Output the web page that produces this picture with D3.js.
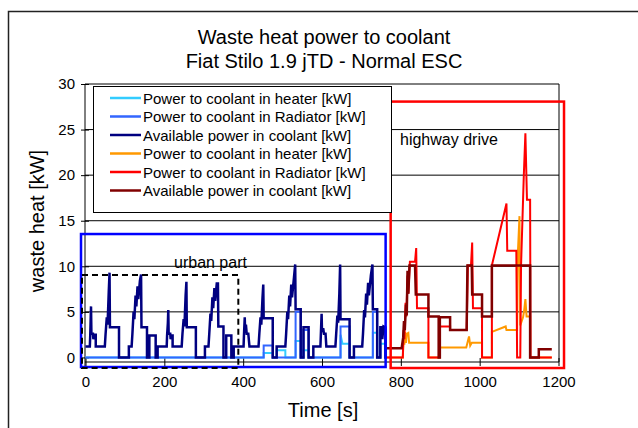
<!DOCTYPE html>
<html><head><meta charset="utf-8">
<script src="https://cdn.jsdelivr.net/npm/d3@7"></script>
<style>
body{margin:0;background:#fff}
svg{display:block;font-family:"Liberation Sans",Arial,sans-serif}
</style></head><body>
<svg id="chart" width="638" height="428"></svg>
<script>
// urban part (NEDC ECE cycles), [time s, kW]
const heaterUrban = [[0,0],[452,0],[452,0.5],[475,0.5],[475,0],[485,0],[485,0.8],[507,0.8],[507,0],[533,0],[533,1.8],[546,1.8],[546,0],[553,0],[553,0.8],[566,0.8],[566,0],[647,0],[647,2.5],[652,1.5],[670,1.5],[670,0],[729,0],[729,2.7],[740,2.7],[740,0],[748,0],[748,1.5],[761,1.5],[761,0],[765,0]];
const radiatorUrban = [[0,0],[452,0],[452,1.3],[475,1.3],[475,0],[533,0],[533,5.0],[546,5.0],[546,0],[553,0],[553,3.0],[566,3.0],[566,0],[647,0],[647,3.4],[670,3.4],[670,0],[729,0],[729,5.0],[740,5.0],[740,0],[748,0],[748,3.0],[761,3.0],[761,0],[765,0]];
const availableUrban = [
  [0,1.2],[11,1.2],[12,2.4],[13,4.0],[14,5.6],[15,2.6],[19,2.6],[20,2.0],[22,2.5],[26,2.5],[26,1.2],[49,1.2],[51,2.6],[54,4.4],[56,3.6],[59,7.2],[61,9.3],[62,3.3],[85,3.3],[85,0],[110,0],[110,1.2],[117,1.2],[119,2.6],[122,5.0],[124,4.2],[127,6.8],[129,5.6],[132,7.8],[134,6.4],[138,8.4],[141,9.1],[142,3.3],[156,3.3],[156,0],[162,0],[162,2.4],[178,2.4],[178,0],[183,0],[183,1.2],
  [206,1.2],[207,2.4],[209,3.8],[210,5.2],[211,2.6],[215,2.6],[216,2.0],[218,2.4],[221,2.4],[221,1.2],[244,1.2],[246,2.6],[249,4.2],[251,3.4],[254,6.8],[256,8.3],[257,3.3],[280,3.3],[280,0],[303,0],[303,1.2],[312,1.2],[314,2.6],[317,4.8],[319,4.0],[322,6.6],[324,5.4],[327,7.6],[329,6.2],[333,8.1],[336,8.1],[337,3.4],[350,3.4],[350,0],[357,0],[357,2.4],[370,2.4],[370,0],[376,0],[376,1.2],
  [401,1.2],[402,2.4],[404,4.4],[405,2.8],[407,3.6],[409,2.6],[413,2.6],[416,1.2],[439,1.2],[441,2.6],[444,4.4],[446,3.6],[449,6.5],[451,8.0],[452,4.3],[475,4.3],[475,0],[485,0],[485,1.2],[507,1.2],[509,2.6],[512,5.0],[514,4.2],[517,6.8],[519,5.6],[522,8.0],[524,6.6],[529,8.8],[532,10.2],[533,5.3],[546,5.3],[546,0],[553,0],[553,3.3],[566,3.3],[566,0],[578,0],[578,1.2],
  [596,1.2],[597,2.4],[599,4.8],[600,2.8],[603,3.2],[605,2.6],[609,2.6],[611,1.2],[634,1.2],[636,2.6],[639,4.6],[641,3.8],[644,7.0],[646,10.2],[647,4.2],[670,4.2],[670,0],[681,0],[681,1.2],[702,1.2],[704,2.6],[707,5.2],[709,4.4],[712,7.0],[714,5.8],[717,8.2],[719,6.8],[724,9.0],[728,10.2],[729,5.3],[740,5.3],[740,0],[748,0],[748,3.3],[752,3.3],[753,2.0],[756,3.4],[761,3.3],[761,0],[765,0]
];
// highway part (EUDC)
const heaterHighway = [[765,0],[805,0],[807,2.0],[809,1.4],[811,2.8],[813,1.6],[815,2.6],[819,2.7],[821,1.6],[870,1.6],[870,0],[898,0],[898,1.1],[966,1.1],[969,1.6],[973,2.3],[976,1.3],[980,1.6],[1006,1.6],[1006,0],[1031,0],[1031,2.8],[1066,3.4],[1068,3.0],[1095,3.0],[1097,11.5],[1101,15.5],[1103,3.5],[1110,4.4],[1113,5.2],[1116,6.4],[1119,4.5],[1128,4.5],[1128,0],[1183,0]];
const radiatorHighway = [[765,0],[805,0],[807,3.0],[809,2.0],[812,6.0],[814,4.5],[817,9.0],[819,7.0],[823,10.5],[836,10.5],[839,12.0],[841,5.4],[870,5.4],[870,0],[898,0],[898,3.4],[925,3.4],[925,3.0],[967,3.0],[970,10.1],[978,10.1],[981,12.6],[983,5.4],[1006,5.4],[1006,0],[1031,0],[1031,10.1],[1068,16.9],[1070,11.7],[1093,11.7],[1095,0],[1103,0],[1105,10.1],[1112,20],[1116,24.6],[1120,17.3],[1128,17.3],[1129,0],[1183,0]];
const availableHighway = [[765,1.0],[802,1.0],[806,2.2],[808,4.0],[810,3.0],[813,5.8],[815,4.6],[817,9.5],[819,7.0],[822,10.1],[836,10.1],[838,6.9],[870,6.9],[870,4.5],[896,4.5],[896,0],[899,0],[899,4.4],[925,4.4],[925,3.0],[967,3.0],[969,10.1],[980,10.1],[981,6.9],[1006,6.9],[1006,4.5],[1031,4.5],[1031,10.1],[1128,10.1],[1128,0],[1150,0],[1150,0.9],[1183,0.9]];

const xTicks = [0, 200, 400, 600, 800, 1000, 1200];
const yTicks = [0, 5, 10, 15, 20, 25, 30];
const legendLabels = [
  "Power to coolant in heater [kW]", "Power to coolant in Radiator [kW]", "Available power in coolant [kW]",
  "Power to coolant in heater [kW]", "Power to coolant in Radiator [kW]", "Available power in coolant [kW]"
];

const series = [
  { data: heaterUrban,      color: "#33CCFF", w: 2 },
  { data: radiatorUrban,    color: "#3366FF", w: 2 },
  { data: availableUrban,   color: "#000080", w: 2.5 },
  { data: heaterHighway,    color: "#FF9900", w: 2 },
  { data: radiatorHighway,  color: "#FF0000", w: 2 },
  { data: availableHighway, color: "#800000", w: 2.5 }
];

const svg = d3.select("#chart");
const L = 85, R = 559, T = 84, B = 362;
const x = d3.scaleLinear().domain([0, 1200]).range([L + 0.5, R - 0.5]);
const y = d3.scaleLinear().domain([-0.5, 30]).range([B, T]);

// outer chart border
svg.append("rect").attr("x", 8.5).attr("y", 11.5).attr("width", 700).attr("height", 500)
  .attr("fill", "#fff").attr("stroke", "#222").attr("stroke-width", 1.5);

// titles
svg.append("text").attr("x", 324).attr("y", 44).attr("text-anchor", "middle")
  .attr("font-size", 20).text("Waste heat power to coolant");
svg.append("text").attr("x", 324).attr("y", 68).attr("text-anchor", "middle")
  .attr("font-size", 20).text("Fiat Stilo 1.9 jTD - Normal ESC");

// gridlines
svg.append("g").selectAll("line").data(yTicks.filter(d => d > 0 && d < 30)).enter().append("line")
  .attr("x1", L).attr("x2", R).attr("y1", d => y(d)).attr("y2", d => y(d))
  .attr("stroke", "#000").attr("stroke-width", 1);

// plot frame (top/right)
svg.append("path").attr("d", `M${L},${T}H${R}V${B}`).attr("fill", "none").attr("stroke", "#000");

// axes
const yAxis = svg.append("g").attr("transform", `translate(${L},0)`)
  .call(d3.axisLeft(y).tickValues(yTicks).tickSizeInner(4).tickSizeOuter(0).tickPadding(6));
yAxis.selectAll(".tick line").attr("x2", -4).attr("x1", 4);
const xAxis = svg.append("g").attr("transform", `translate(0,${B})`)
  .call(d3.axisBottom(x).tickValues(xTicks).tickFormat(d3.format("d"))
    .tickSizeInner(4).tickSizeOuter(0).tickPadding(10));
xAxis.selectAll(".tick line").attr("y1", -4).attr("y2", 4);
svg.selectAll(".domain").attr("stroke", "#000");
svg.selectAll(".tick text").attr("font-size", 15).attr("fill", "#000")
  .attr("font-family", "'Liberation Sans',Arial,sans-serif");
yAxis.selectAll(".domain").attr("d", `M0,${T}V${B + 4}`);
xAxis.selectAll(".domain").attr("d", `M${L},0H${R}`);

// axis titles
svg.append("text").attr("transform", "translate(44,221) rotate(-90)").attr("text-anchor", "middle")
  .attr("font-size", 20).text("waste heat [kW]");
svg.append("text").attr("x", 323).attr("y", 417).attr("text-anchor", "middle")
  .attr("font-size", 20).text("Time [s]");

// series
const line = d3.line().x(d => x(d[0])).y(d => y(d[1]));
svg.append("g").selectAll("path").data(series).enter().append("path")
  .attr("d", d => line(d.data)).attr("fill", "none")
  .attr("stroke", d => d.color).attr("stroke-width", d => d.w).attr("stroke-linejoin", "miter");

// annotation boxes, in data units
const boxes = [
  { t0: -11.4, t1: 761.4, v0: -1.05, v1: 13.54, color: "#0000FF", w: 2.5, dash: null },
  { t0: 774.2, t1: 1214, v0: -1.16, v1: 28.07, color: "#FF0000", w: 2.5, dash: null },
  { t0: -8.9, t1: 387.7, v0: -1.16, v1: 9.04, color: "#000", w: 2, dash: "6,4" }
];
svg.append("g").selectAll("rect").data(boxes).enter().append("rect")
  .attr("x", d => x(d.t0)).attr("y", d => y(d.v1))
  .attr("width", d => x(d.t1) - x(d.t0)).attr("height", d => y(d.v0) - y(d.v1))
  .attr("fill", "none").attr("stroke", d => d.color).attr("stroke-width", d => d.w)
  .attr("stroke-dasharray", d => d.dash);

svg.append("text").attr("x", 174).attr("y", 268).attr("font-size", 16).text("urban part");
svg.append("text").attr("x", 400).attr("y", 145).attr("font-size", 16).text("highway drive");

// legend
const lg = svg.append("g");
lg.append("rect").attr("x", 93.5).attr("y", 86.5).attr("width", 298).attr("height", 126)
  .attr("fill", "#fff").attr("stroke", "#000");
const rows = lg.selectAll("g.row").data(series).enter().append("g").attr("class", "row")
  .attr("transform", (d, i) => `translate(0,${98 + i * 18.5})`);
rows.append("line").attr("x1", 110).attr("x2", 141).attr("stroke", d => d.color).attr("stroke-width", 2.5);
rows.append("text").attr("x", 143).attr("y", 5.5).attr("font-size", 15).text((d, i) => legendLabels[i]);
</script></body></html>
